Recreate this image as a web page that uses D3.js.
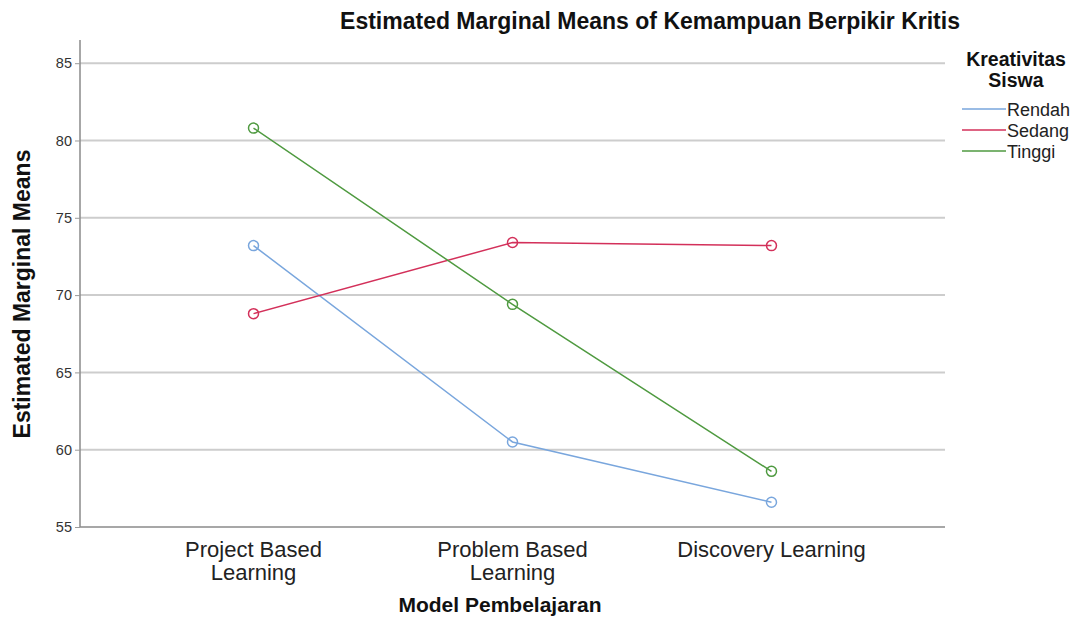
<!DOCTYPE html>
<html lang="en">
<head>
    <meta charset="UTF-8">
    <title>estimated marginal means</title>
    <script src="https://d3js.org/d3.v7.min.js"></script>
    <style>
        body{ margin:0; background:#fff; }
        text{ font-family: "Liberation Sans", Arial, sans-serif; }
    </style>
</head>
<body>
<svg id="chart" width="1082" height="619"></svg>

<script>
    // data
    let models = ["Project Based Learning", "Problem Based Learning", "Discovery Learning"]
    let modelLabels = [["Project Based", "Learning"], ["Problem Based", "Learning"], ["Discovery Learning"]]
    let groups = ["Rendah", "Sedang", "Tinggi"]
    let rendah = [73.2, 60.5, 56.6]
    let sedang = [68.8, 73.4, 73.2]
    let tinggi = [80.8, 69.4, 58.6]
    let yTicks = [55, 60, 65, 70, 75, 80, 85]
    let colors = ["#79a6dd", "#d3305a", "#4f9a40"]

    let series = [rendah, sedang, tinggi]

    let svg = d3.select("#chart")
    let plotLeft = 80, plotRight = 945, plotTop = 40, plotBottom = 527

    let x = d3.scalePoint().domain(models).range([plotLeft, plotRight]).padding(0.67)
    let y = d3.scaleLinear().domain([55, 86.5]).range([plotBottom, plotTop])

    // gridlines
    svg.append("g")
        .selectAll("line")
        .data(yTicks.filter(d => d > 55))
        .join("line")
        .attr("x1", plotLeft).attr("x2", plotRight)
        .attr("y1", d => y(d)).attr("y2", d => y(d))
        .attr("stroke", "#cdcdcd")
        .attr("stroke-width", 2)

    // y axis
    let yAxis = svg.append("g")
        .attr("transform", `translate(${plotLeft},0)`)
        .call(d3.axisLeft(y).tickValues(yTicks).tickSize(5).tickPadding(3))
    yAxis.select(".domain").attr("stroke", "#8a8a8a").attr("stroke-width", 1.5)
        .attr("d", `M0,${plotTop}V${plotBottom}`)
    yAxis.selectAll(".tick line").attr("stroke", "#9a9a9a")
    yAxis.selectAll(".tick text").attr("font-size", 14.5).attr("fill", "#333")
        .style("font-family", "Liberation Sans, Arial, sans-serif")

    // x axis line
    svg.append("line")
        .attr("x1", plotLeft).attr("x2", plotRight)
        .attr("y1", plotBottom).attr("y2", plotBottom)
        .attr("stroke", "#8a8a8a").attr("stroke-width", 1.5)

    // x tick labels
    let xl = svg.append("g")
        .selectAll("text")
        .data(models)
        .join("text")
        .attr("x", d => x(d))
        .attr("y", 557)
        .attr("text-anchor", "middle")
        .attr("font-size", 22)
        .attr("fill", "#222")
    xl.each(function (d, i) {
        d3.select(this).selectAll("tspan")
            .data(modelLabels[i])
            .join("tspan")
            .attr("x", x(d))
            .attr("dy", (t, j) => j === 0 ? 0 : 23)
            .text(t => t)
    })

    // lines and markers
    let line = d3.line().x((d, i) => x(models[i])).y(d => y(d))
    series.forEach(function (s, k) {
        svg.append("path")
            .datum(s)
            .attr("d", line)
            .attr("fill", "none")
            .attr("stroke", colors[k])
            .attr("stroke-width", 1.5)
        svg.append("g")
            .selectAll("circle")
            .data(s)
            .join("circle")
            .attr("cx", (d, i) => x(models[i]))
            .attr("cy", d => y(d))
            .attr("r", 5)
            .attr("fill", "none")
            .attr("stroke", colors[k])
            .attr("stroke-width", 1.5)
    })

    // title
    svg.append("text")
        .attr("x", 650).attr("y", 29)
        .attr("text-anchor", "middle")
        .attr("font-size", 23)
        .attr("font-weight", "bold")
        .attr("fill", "#111")
        .text("Estimated Marginal Means of Kemampuan Berpikir Kritis")

    // axis titles
    svg.append("text")
        .attr("transform", "translate(30,294) rotate(-90)")
        .attr("text-anchor", "middle")
        .attr("font-size", 23)
        .attr("font-weight", "bold")
        .attr("fill", "#111")
        .text("Estimated Marginal Means")

    svg.append("text")
        .attr("x", 500).attr("y", 612)
        .attr("text-anchor", "middle")
        .attr("font-size", 21)
        .attr("font-weight", "bold")
        .attr("fill", "#111")
        .text("Model Pembelajaran")

    // legend
    let lg = svg.append("g")
    lg.append("text")
        .attr("x", 1016).attr("y", 66)
        .attr("text-anchor", "middle")
        .attr("font-size", 19.5)
        .attr("font-weight", "bold")
        .attr("fill", "#111")
        .selectAll("tspan")
        .data(["Kreativitas", "Siswa"])
        .join("tspan")
        .attr("x", 1016)
        .attr("dy", (t, j) => j === 0 ? 0 : 21)
        .text(t => t)
    let items = lg.selectAll("g.item")
        .data(groups)
        .join("g")
        .attr("class", "item")
        .attr("transform", (d, i) => `translate(962,${109 + i * 21})`)
    items.append("line")
        .attr("x1", 0).attr("x2", 44)
        .attr("stroke", (d, i) => colors[i])
        .attr("stroke-width", 1.5)
    items.append("text")
        .attr("x", 45).attr("y", 7)
        .attr("font-size", 18)
        .attr("fill", "#222")
        .text(d => d)
</script>

</body>
</html>
